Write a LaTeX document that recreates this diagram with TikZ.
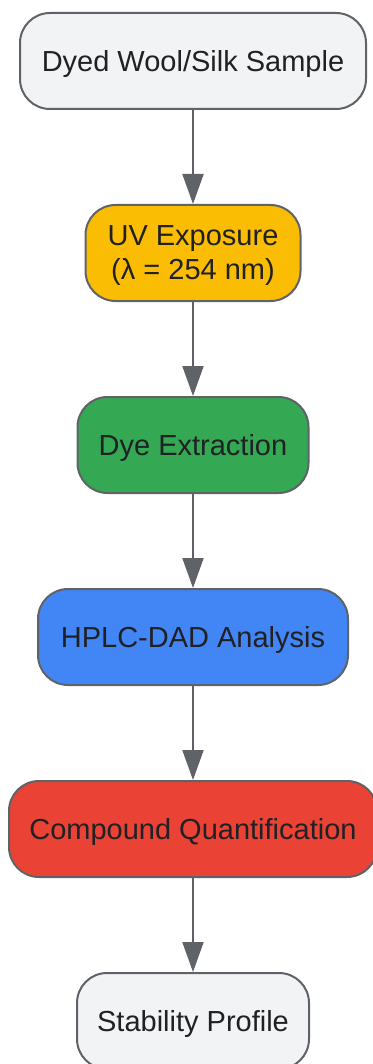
\documentclass[tikz,border=0pt]{standalone}
\usepackage{fontspec}
\setmainfont{Liberation Sans}
\usetikzlibrary{arrows.meta}
\definecolor{edgegray}{HTML}{5F6368}
\definecolor{txt}{HTML}{202124}
\definecolor{cgray}{HTML}{F1F3F4}
\definecolor{cyellow}{HTML}{FBBC04}
\definecolor{cgreen}{HTML}{34A853}
\definecolor{cblue}{HTML}{4285F4}
\definecolor{cred}{HTML}{EA4335}
\begin{document}
\begin{tikzpicture}[x=1pt,y=1pt,
  stepbox/.style={draw=edgegray, line width=2pt, rounded corners=30pt, minimum height=96pt,
    text=txt, align=center, font=\fontsize{29}{34}\selectfont, inner sep=0pt, text depth=0pt},
  flow/.style={draw=edgegray, line width=2pt, -{Triangle[length=30pt,width=21pt]}, color=edgegray}]
\useasboundingbox (0,0) rectangle (372,-1064);
\node[stepbox, fill=cgray, minimum width=346pt] (a) at (193,-61) {Dyed Wool/Silk Sample};
\node[stepbox, fill=cyellow, minimum width=215pt] (b) at (193,-253) {UV Exposure\\(λ = 254 nm)};
\node[stepbox, fill=cgreen, minimum width=231pt] (c) at (193,-445) {Dye Extraction};
\node[stepbox, fill=cblue, minimum width=310pt] (d) at (193,-637) {HPLC-DAD Analysis};
\node[stepbox, fill=cred, minimum width=368pt] (e) at (193,-829) {Compound Quantification};
\node[stepbox, fill=cgray, minimum width=232pt] (f) at (193,-1021) {Stability Profile};
\draw[flow] (a.south) -- (b.north);
\draw[flow] (b.south) -- (c.north);
\draw[flow] (c.south) -- (d.north);
\draw[flow] (d.south) -- (e.north);
\draw[flow] (e.south) -- (f.north);
\end{tikzpicture}
\end{document}
